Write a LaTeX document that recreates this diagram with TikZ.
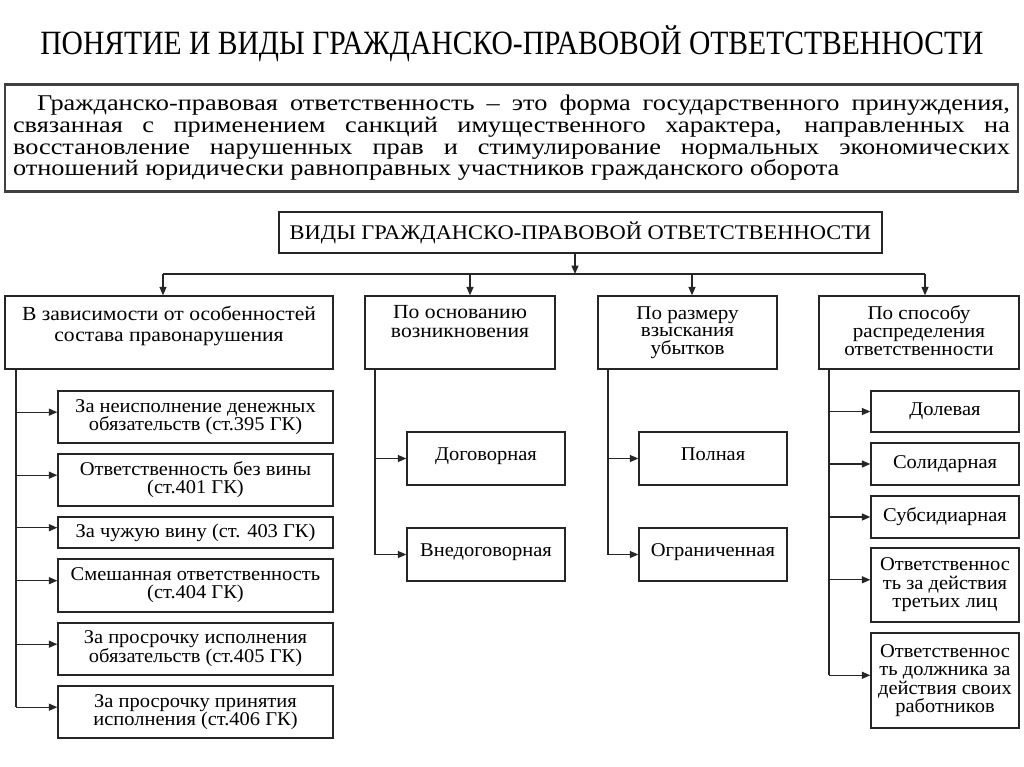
\documentclass[tikz,border=0pt]{standalone}
\usepackage{fontspec}
\usepackage{graphicx}
\setmainfont{Liberation Serif}
\newfontfamily\deffont[FakeStretch=1.17]{Liberation Serif}
\newfontfamily\boxfont[FakeStretch=1.05]{Liberation Serif}
\newfontfamily\headfont[FakeStretch=1.08]{Liberation Serif}
\newcommand\jline[1]{\makebox[997pt][s]{#1}}
\usetikzlibrary{arrows.meta}
\begin{document}
\begin{tikzpicture}[x=1pt,y=-1pt,
  box/.style={draw=black!85, line width=1.3pt, align=center, inner sep=2pt,
    font=\boxfont\fontsize{19.5}{18}\selectfont},
  conn/.style={line width=1.3pt, draw=black!85},
  arr/.style={conn, -{Triangle[length=8.5pt,width=7pt]}},
]
\useasboundingbox[fill=white] (0,0) rectangle (1024,767);

\node (title) at (512,44) {\scalebox{0.87}[1]{\fontsize{34}{34}\selectfont ПОНЯТИЕ И ВИДЫ ГРАЖДАНСКО-ПРАВОВОЙ ОТВЕТСТВЕННОСТИ}};

\node[draw=black!75, line width=2.2pt, minimum width=1013pt, minimum height=107pt,
  align=left, inner sep=0pt, font=\deffont\fontsize{22.5}{21.6}\selectfont] (def) at (511.5,138)
  {\jline{\hspace*{24pt}Гражданско-правовая ответственность – это форма государственного принуждения,}\\
   \jline{связанная с применением санкций имущественного характера, направленных на}\\
   \jline{восстановление нарушенных прав и стимулирование нормальных экономических}\\
   \makebox[997pt][l]{отношений юридически равноправных участников гражданского оборота}};

\node[box, minimum width=603pt, minimum height=41pt, font=\headfont\fontsize{20.8}{20}\selectfont] (top) at (580.5,232.5) {ВИДЫ ГРАЖДАНСКО-ПРАВОВОЙ ОТВЕТСТВЕННОСТИ};

% header row
\node[box, minimum width=328pt, minimum height=73pt, font=\headfont\fontsize{20}{21}\selectfont, text depth=18pt] (h1) at (169,332.5) {В зависимости от особенностей\\состава правонарушения};
\node[box, minimum width=190pt, minimum height=73pt, font=\headfont\fontsize{20}{19.5}\selectfont, text depth=22pt] (h2) at (460,332.5) {По основанию\\возникновения};
\node[box, minimum width=179pt, minimum height=73pt, font=\headfont\fontsize{19.5}{17.6}\selectfont, text depth=4pt] (h3) at (687.5,332.5) {По размеру\\взыскания\\убытков};
\node[box, minimum width=200pt, minimum height=73pt, font=\headfont\fontsize{19.5}{17.6}\selectfont, text depth=4pt] (h4) at (919,332.5) {По способу\\распределения\\ответственности};

% bus
\coordinate (bus) at (575,274);
\coordinate (d1) at (163,274);
\coordinate (d2) at (470,274);
\coordinate (d3) at (692,274);
\coordinate (d4) at (925,274);
\draw[arr] (top.south -| bus) -- (bus);
\draw[conn] (d1) -- (d4);
\draw[arr] (d1) -- (d1 |- h1.north);
\draw[arr] (d2) -- (d2 |- h2.north);
\draw[arr] (d3) -- (d3 |- h3.north);
\draw[arr] (d4) -- (d4 |- h4.north);

% left column
\node[box, minimum width=275pt, minimum height=52pt] (a) at (195.5,417) {За неисполнение денежных\\обязательств (ст.395 ГК)};
\node[box, minimum width=275pt, minimum height=52pt] (b) at (195.5,480) {Ответственность без вины\\(ст.401 ГК)};
\node[box, minimum width=275pt, minimum height=31pt] (c) at (195.5,532.5) {За чужую вину (ст. 403 ГК)};
\node[box, minimum width=275pt, minimum height=53pt] (d) at (195.5,585.5) {Смешанная ответственность\\(ст.404 ГК)};
\node[box, minimum width=275pt, minimum height=52pt] (e) at (195.5,649) {За просрочку исполнения\\обязательств (ст.405 ГК)};
\node[box, minimum width=275pt, minimum height=52pt] (f) at (195.5,712) {За просрочку принятия\\исполнения (ст.406 ГК)};
\coordinate (t1) at (16,0);
\draw[conn] (h1.south -| t1) -- (t1 |- f.178);
\foreach \n in {a,b,c,d,e,f} \draw[arr] (t1 |- \n.178) -- (\n.178);

% second column
\node[box, minimum width=158pt, minimum height=53pt, text depth=9pt] (g) at (486,458.5) {Договорная};
\node[box, minimum width=158pt, minimum height=53pt, text depth=9pt] (h) at (486,554.5) {Внедоговорная};
\coordinate (t2) at (375,0);
\draw[conn] (h2.south -| t2) -- (t2 |- h.west);
\foreach \n in {g,h} \draw[arr] (t2 |- \n.west) -- (\n.west);

% third column
\node[box, minimum width=148pt, minimum height=53pt, text depth=9pt] (i) at (713,458.5) {Полная};
\node[box, minimum width=148pt, minimum height=53pt, text depth=9pt] (j) at (713,554.5) {Ограниченная};
\coordinate (t3) at (608,0);
\draw[conn] (h3.south -| t3) -- (t3 |- j.west);
\foreach \n in {i,j} \draw[arr] (t3 |- \n.west) -- (\n.west);

% right column
\node[box, minimum width=148pt, minimum height=41pt] (k) at (945,411.5) {Долевая};
\node[box, minimum width=148pt, minimum height=42pt] (l) at (945,464) {Солидарная};
\node[box, minimum width=148pt, minimum height=42pt] (m) at (945,517) {Субсидиарная};
\node[box, minimum width=148pt, minimum height=74pt, font=\boxfont\fontsize{19.5}{18.5}\selectfont] (n) at (945,585) {Ответственнос\\ть за действия\\третьих лиц};
\node[box, minimum width=148pt, minimum height=95pt, font=\boxfont\fontsize{19.5}{18.5}\selectfont] (o) at (945,680.5) {Ответственнос\\ть должника за\\действия своих\\работников};
\coordinate (t4) at (829,0);
\draw[conn] (h4.south -| t4) -- (t4 |- o.176);
\foreach \n in {k,l,m} \draw[arr] (t4 |- \n.west) -- (\n.west);
\foreach \n in {n,o} \draw[arr] (t4 |- \n.176) -- (\n.176);
\end{tikzpicture}
\end{document}
